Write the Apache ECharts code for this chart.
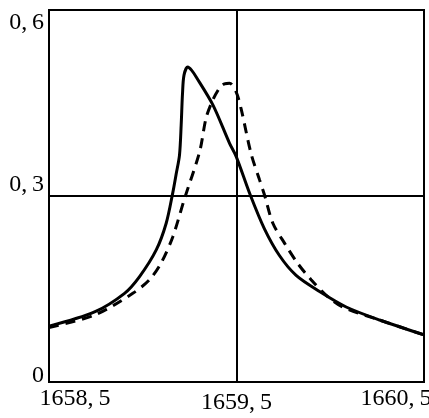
<!DOCTYPE html>
<html>
<head>
<meta charset="utf-8">
<script src="https://cdn.jsdelivr.net/npm/echarts@6/dist/echarts.min.js"></script>
<style>html,body{margin:0;padding:0;background:#fff}#c{width:429px;height:418px}</style>
</head>
<body>
<div id="c"></div>
<script>
var solidX = [1658.5, 1658.743, 1658.903, 1658.983, 1659.072, 1659.125, 1659.160, 1659.178, 1659.196, 1659.205, 1659.212, 1659.220, 1659.240, 1659.260, 1659.285, 1659.374, 1659.463, 1659.498, 1659.573, 1659.649, 1659.729, 1659.818, 1659.943, 1660.085, 1660.263, 1660.5];
var solidY = [0.090, 0.113, 0.143, 0.170, 0.213, 0.256, 0.305, 0.335, 0.366, 0.415, 0.465, 0.495, 0.508, 0.503, 0.492, 0.447, 0.385, 0.364, 0.302, 0.247, 0.204, 0.172, 0.146, 0.121, 0.100, 0.076];
var dashedX = [1658.5, 1658.743, 1658.947, 1659.036, 1659.098, 1659.160, 1659.223, 1659.303, 1659.338, 1659.374, 1659.409, 1659.436, 1659.463, 1659.498, 1659.525, 1659.578, 1659.623, 1659.649, 1659.694, 1659.756, 1659.827, 1659.898, 1659.985, 1660.065, 1660.263, 1660.5];
var dashedY = [0.088, 0.108, 0.143, 0.165, 0.192, 0.234, 0.296, 0.371, 0.426, 0.455, 0.474, 0.481, 0.482, 0.468, 0.440, 0.368, 0.326, 0.302, 0.256, 0.224, 0.191, 0.165, 0.138, 0.121, 0.100, 0.076];
var xTickLabels = {"1658.5": "1658,\u20095", "1659.5": "1659,\u20095", "1660.5": "1660,\u20095"};
var yTickLabels = {"0": "0", "0.3": "0,\u20093", "0.6": "0,\u20096"};
var crossX = 1659.5;
var crossY = 0.3;

function pairs(xs, ys) { return xs.map(function (x, i) { return [x, ys[i]]; }); }

var font = "Liberation Serif";
var fs = 24;
var chart = echarts.init(document.getElementById('c'), null, {renderer: 'canvas'});
chart.setOption({
  animation: false,
  backgroundColor: '#fff',
  grid: {left: 49, right: 5, top: 10, bottom: 36, show: true, borderColor: '#000', borderWidth: 2,
         containLabel: false, outerBoundsMode: 'none'},
  xAxis: {
    type: 'value', min: 1658.5, max: 1660.5, interval: 0.5,
    axisLine: {show: true, onZero: false, lineStyle: {color: '#000', width: 2}},
    axisTick: {show: false}, splitLine: {show: false},
    axisLabel: {
      margin: 5, color: '#000', fontFamily: font, fontSize: fs, verticalAlign: 'top',
      formatter: function (v) {
        var k = String(Math.round(v * 10) / 10);
        var t = xTickLabels[k];
        if (!t) return '';
        if (k === '1658.5') return '{l|' + t + '}';
        if (k === '1660.5') return '{r|' + t + '}';
        return '{c|' + t + '}';
      },
      rich: {
        l: {fontFamily: font, fontSize: fs, color: '#000', padding: [0, 0, 0, 52]},
        c: {fontFamily: font, fontSize: fs, color: '#000', padding: [4, 0, 0, 0]},
        r: {fontFamily: font, fontSize: fs, color: '#000', padding: [0, 56, 0, 0]}
      }
    }
  },
  yAxis: {
    type: 'value', min: 0, max: 0.6, interval: 0.3,
    axisLine: {show: true, onZero: false, lineStyle: {color: '#000', width: 2}},
    axisTick: {show: false}, splitLine: {show: false},
    axisLabel: {
      margin: 5, color: '#000', fontFamily: font, fontSize: fs, verticalAlign: 'middle',
      formatter: function (v) {
        var k = String(Math.round(v * 10) / 10);
        var t = yTickLabels[k];
        if (!t) return '';
        if (k === '0.6') return '{t|' + t + '}';
        if (k === '0.3') return '{m|' + t + '}';
        return '{b|' + t + '}';
      },
      rich: {
        t: {fontFamily: font, fontSize: fs, color: '#000', padding: [26, 0, 0, 0]},
        m: {fontFamily: font, fontSize: fs, color: '#000', padding: [0, 0, 22, 0]},
        b: {fontFamily: font, fontSize: fs, color: '#000', padding: [0, 0, 12, 0]}
      }
    }
  },
  series: [
    {
      type: 'line', data: pairs(solidX, solidY), showSymbol: false, smooth: 0.3,
      lineStyle: {color: '#000', width: 3},
      markLine: {
        silent: true, symbol: 'none', label: {show: false},
        lineStyle: {color: '#000', width: 2, type: 'solid'},
        data: [{xAxis: crossX}, {yAxis: crossY}]
      }
    },
    {
      type: 'line', data: pairs(dashedX, dashedY), showSymbol: false, smooth: 0.3,
      lineStyle: {color: '#000', width: 3, type: [10, 7]}
    }
  ]
});
</script>
</body>
</html>
